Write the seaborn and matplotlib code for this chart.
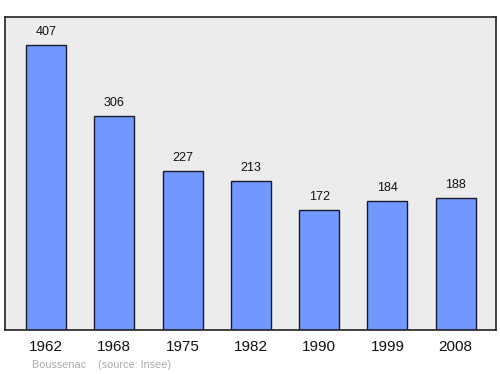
import matplotlib
matplotlib.use("Agg")
import matplotlib.pyplot as plt
import seaborn as sns
import pandas as pd

years = ["1962", "1968", "1975", "1982", "1990", "1999", "2008"]
population = [407, 306, 227, 213, 172, 184, 188]

sns.set_style("white")
plt.rcParams['font.family'] = ['Liberation Sans', 'DejaVu Sans']

df = pd.DataFrame({"year": years, "pop": population})

fig = plt.figure(figsize=(5, 3.74), dpi=100)
ax = fig.add_axes([0.01, 0.1176, 0.982, 0.837])
ax.set_facecolor("#ececec")
sns.barplot(data=df, x="year", y="pop", color="#7098ff", saturation=1,
            width=0.585, edgecolor="#1a1a2e", linewidth=1, ax=ax)
for i, v in enumerate(population):
    ax.text(i, v + 10, str(v), ha="center", va="bottom", fontsize=9, color="#111111")
ax.set_xlim(-0.6, 6.59)
ax.set_ylim(0, 447)
ax.set_yticks([])
ax.set_xlabel("")
ax.set_ylabel("")
ax.tick_params(axis="x", length=0, labelsize=11, pad=7.5, colors="#111111")
for s in ax.spines.values():
    s.set_visible(True)
    s.set_color("#222222")
    s.set_linewidth(1.2)
fig.text(0.064, 0.017, "Boussenac    (source: Insee)", fontsize=7.8, color="#aaaaaa")
fig.savefig("out.png", dpi=100)
